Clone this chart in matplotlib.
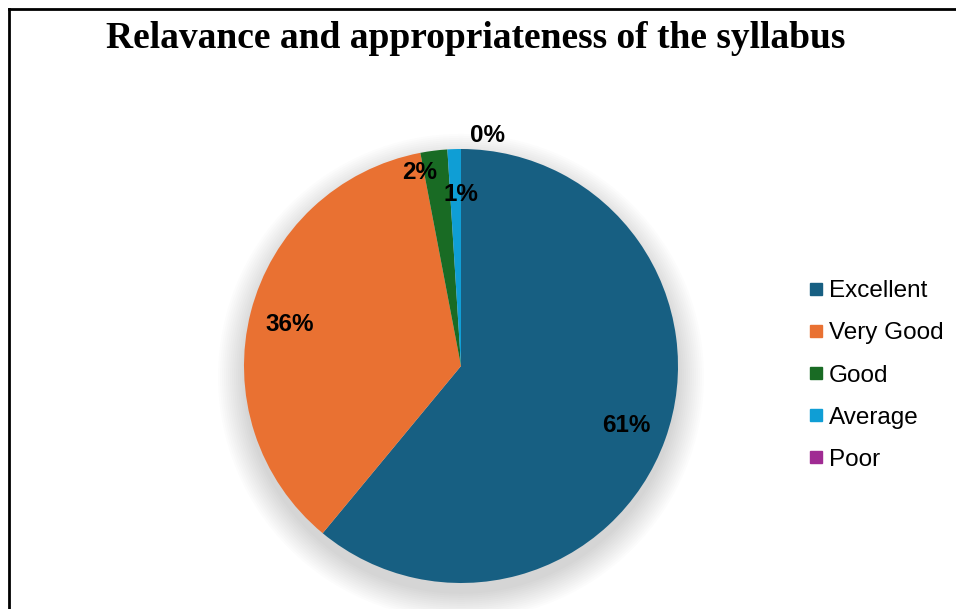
import numpy as np
import matplotlib
matplotlib.use("Agg")
import matplotlib.pyplot as plt
from matplotlib.patches import Circle
from matplotlib.lines import Line2D

categories = ['Excellent', 'Very Good', 'Good', 'Average', 'Poor']
values = [61, 36, 2, 1, 0]
colors = ['#175F82', '#E97132', '#196B24', '#0F9ED5', '#A02B93']
title = 'Relavance and appropriateness of the syllabus'

W, H = 956, 609
fig = plt.figure(figsize=(W / 100, H / 100), dpi=100)
fig.patch.set_facecolor('white')

cx, cy, r = 461, 366, 217
ax = fig.add_axes([(cx - r) / W, (H - cy - r) / H, 2 * r / W, 2 * r / H])

# soft shadow
for rr in np.linspace(1.0, 1.12, 14):
    ax.add_patch(Circle((0, -0.05), rr, color='black', alpha=0.010, lw=0,
                        zorder=0, clip_on=False))

wedges, texts, autotexts = ax.pie(
    values, colors=colors, startangle=90, counterclock=False,
    autopct=lambda p: f'{p:.0f}%', pctdistance=0.81, radius=1,
    wedgeprops=dict(linewidth=0),
    textprops=dict(fontsize=17.5, fontweight='bold', family='Liberation Sans', color='black'))
for w in wedges:
    w.set_zorder(2)
for t in autotexts:
    t.set_zorder(3)
autotexts[1].set_position((-0.79, 0.19))
autotexts[2].set_position((-0.19, 0.89))
autotexts[3].set_position((0.0, 0.79))
autotexts[4].set_position((0.124, 1.06))

ax.set_xlim(-1, 1)
ax.set_ylim(-1, 1)
ax.set_aspect('equal')
ax.axis('off')

fig.text(476 / W, 1 - 39 / H, title, ha='center', va='center', fontsize=27,
         fontweight='bold', family='Liberation Serif')

handles = [Line2D([], [], marker='s', linestyle='', markersize=9, color=c) for c in colors]
fig.legend(handles, categories, loc='center left', bbox_to_anchor=(806 / W, 1 - 375.5 / H),
           frameon=False, prop=dict(family='Liberation Sans', size=17.5),
           labelspacing=0.83, handlelength=0.8, handletextpad=0.15,
           borderpad=0, borderaxespad=0)

# border
fig.add_artist(Line2D([8.5 / W, 8.5 / W], [0, 1 - 9 / H], transform=fig.transFigure,
                      color='black', lw=2))
fig.add_artist(Line2D([8.5 / W, 1], [1 - 9 / H, 1 - 9 / H], transform=fig.transFigure,
                      color='black', lw=2))

fig.savefig('out.png', dpi=100, facecolor='white')
